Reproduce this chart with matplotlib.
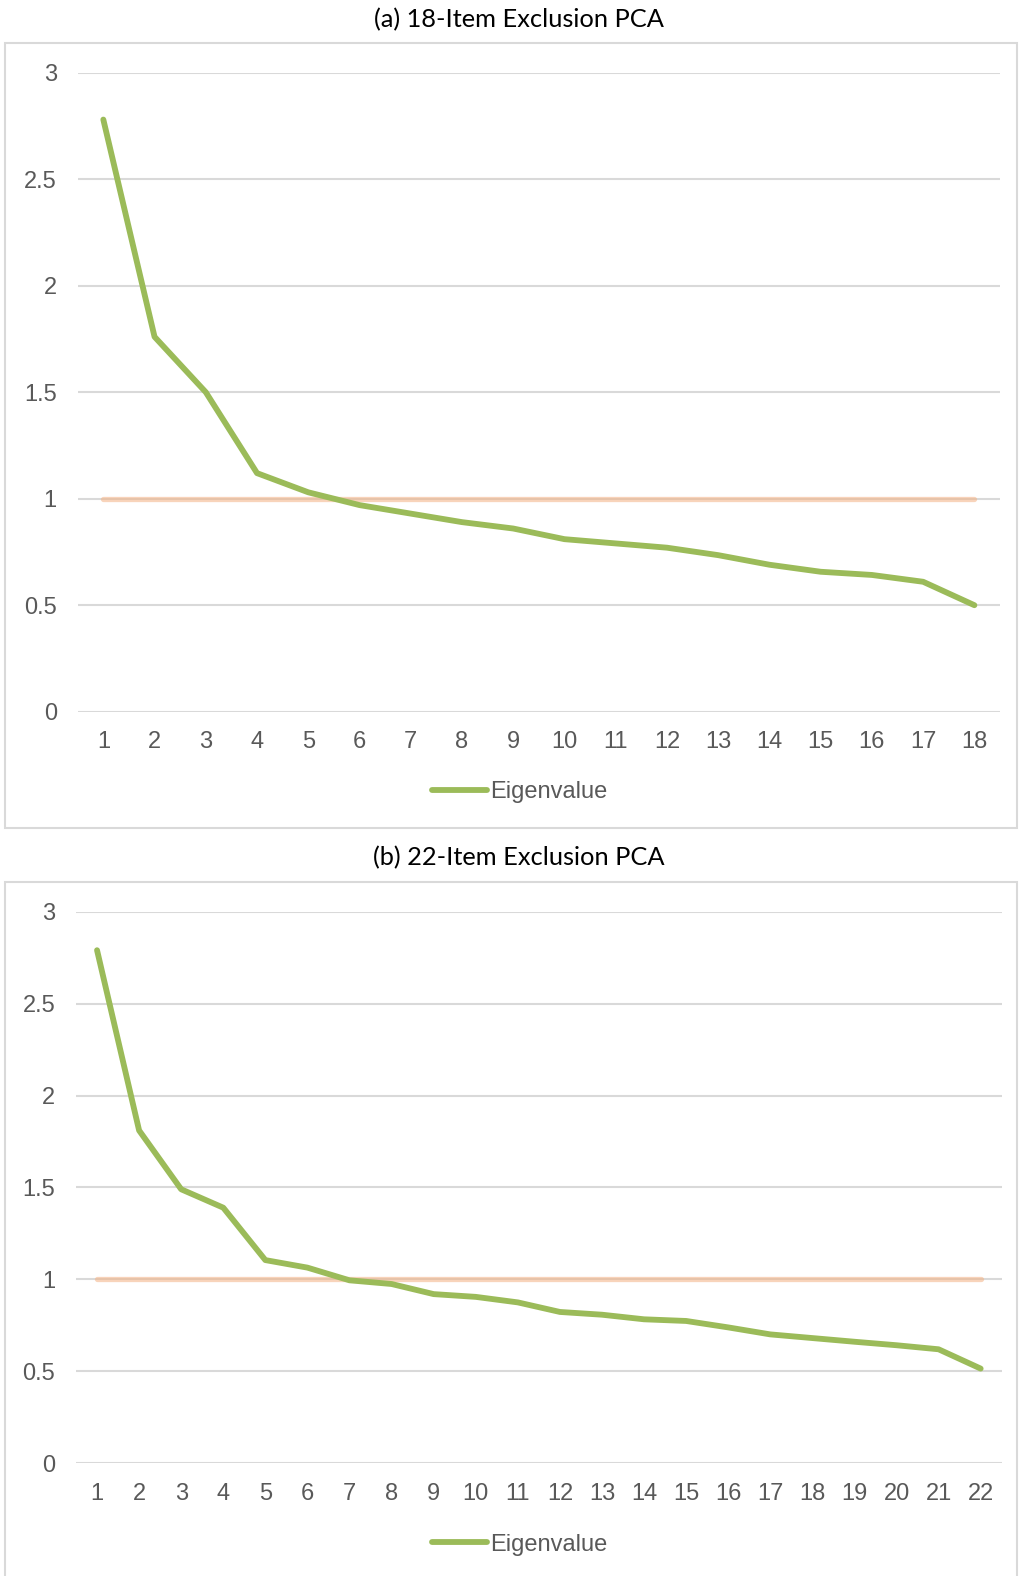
import matplotlib
matplotlib.use("Agg")
import matplotlib.pyplot as plt
from matplotlib.patches import Rectangle

# Scree data: eigenvalues per component
items_18 = list(range(1, 19))
eigen_18 = [2.78, 1.76, 1.50, 1.12, 1.03, 0.97, 0.93, 0.89, 0.86, 0.81,
            0.79, 0.77, 0.735, 0.69, 0.657, 0.642, 0.61, 0.50]

items_22 = list(range(1, 23))
eigen_22 = [2.79, 1.81, 1.49, 1.39, 1.105, 1.064, 0.995, 0.975, 0.92, 0.905,
            0.875, 0.823, 0.808, 0.783, 0.774, 0.739, 0.701, 0.681, 0.661,
            0.642, 0.62, 0.515]

cutoff = 1.0
titles = ["(a) 18-Item Exclusion PCA", "(b) 22-Item Exclusion PCA"]
y_ticks = [0, 0.5, 1, 1.5, 2, 2.5, 3]
y_tick_labels = ["0", "0.5", "1", "1.5", "2", "2.5", "3"]

W, H = 1020, 1576
DPI = 100
GREEN = "#9BBB59"
ORANGE = "#F4B183"
GRID = "#D9D9D9"
TEXT = "#595959"
TICK_FONT = "Liberation Sans"
TITLE_FONT = "Lato"

fig = plt.figure(figsize=(W / DPI, H / DPI), dpi=DPI)


def fig_rect(x0, y0, x1, y1):
    """Pixel box (top-left origin) -> figure-fraction rect."""
    return [x0 / W, 1 - y1 / H, (x1 - x0) / W, (y1 - y0) / H]


def panel(axes_px, box_px, title_y, legend_y, xs, ys, title):
    # chart frame
    bx0, by0, bx1, by1 = box_px
    fig.patches.append(Rectangle((bx0 / W, 1 - by1 / H), (bx1 - bx0) / W,
                                 (by1 - by0) / H, transform=fig.transFigure,
                                 facecolor="none", edgecolor=GRID,
                                 linewidth=1.5, zorder=-1))
    fig.text(519 / W, 1 - title_y / H, title,
             ha="center", va="center", fontsize=18.3, family=TITLE_FONT,
             color="black")

    ax = fig.add_axes(fig_rect(*axes_px))
    ax.set_zorder(2)
    ax.set_facecolor("none")
    n = len(xs)
    ax.plot(xs, [cutoff] * n, color=ORANGE, alpha=0.55, lw=3.8,
            solid_capstyle="round", zorder=2)
    ax.plot(xs, ys, color=GREEN, lw=4.2, solid_capstyle="round",
            solid_joinstyle="round", zorder=3, label="Eigenvalue")
    ax.set_xlim(0.5, n + 0.5)
    ax.set_ylim(0, 3)
    ax.set_yticks(y_ticks)
    ax.set_yticklabels(y_tick_labels)
    ax.set_xticks(xs)
    ax.set_xticklabels([str(v) for v in xs])
    ax.grid(axis="y", color=GRID, lw=1.5, zorder=1)
    ax.set_axisbelow(True)
    for s in ax.spines.values():
        s.set_visible(False)
    ax.tick_params(axis="both", length=0, colors=TEXT, labelsize=17)
    ax.tick_params(axis="x", pad=14)
    ax.tick_params(axis="y", pad=15)
    for lab in ax.get_xticklabels() + ax.get_yticklabels():
        lab.set_family(TICK_FONT)
    leg = ax.legend(loc="center", bbox_to_anchor=(520 / W, 1 - legend_y / H),
                    bbox_transform=fig.transFigure, frameon=False,
                    handlelength=2.3, handletextpad=0.15,
                    prop={"family": TICK_FONT, "size": 17})
    for t in leg.get_texts():
        t.set_color(TEXT)
    return ax


panel((77.7, 72.7, 1000, 711.7), (5, 43, 1017, 828), 20, 792.5,
      items_18, eigen_18, titles[0])
panel((76, 911.6, 1001.7, 1463.3), (5, 881.5, 1017, 1600), 858, 1544.5,
      items_22, eigen_22, titles[1])

fig.savefig("out.png", dpi=DPI)
